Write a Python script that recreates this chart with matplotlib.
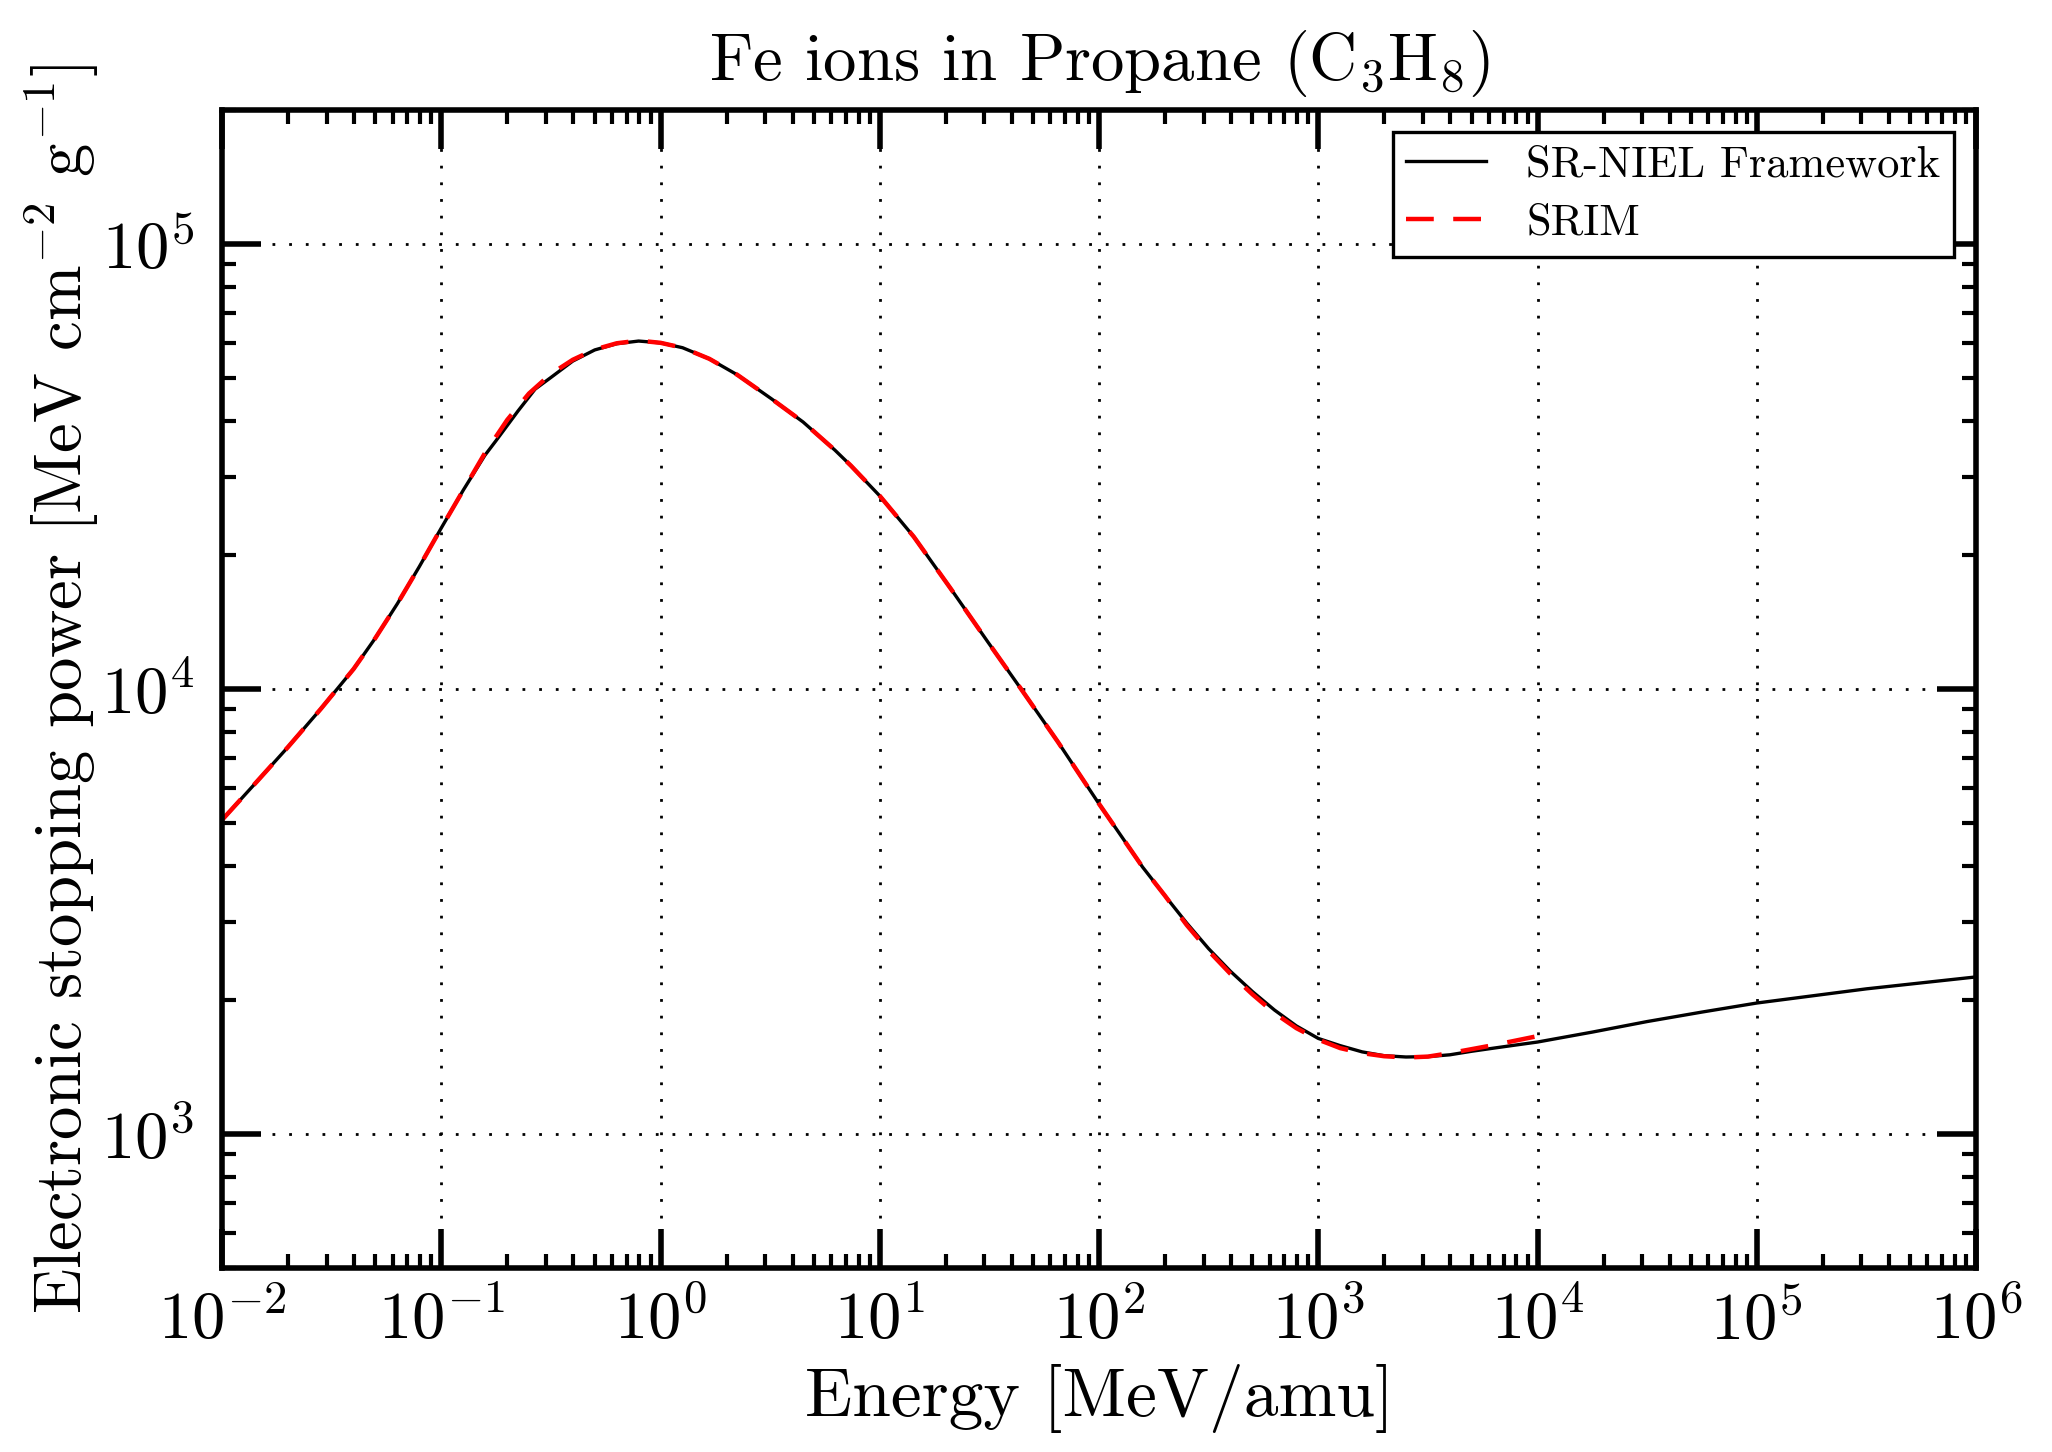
import numpy as np
import matplotlib
matplotlib.use('Agg')
import matplotlib.pyplot as plt
from matplotlib.ticker import LogLocator, FuncFormatter, NullFormatter

# data (energy in MeV/amu, stopping power in MeV cm^2/g)
energy_srniel = [0.01, 0.0141, 0.02, 0.0282, 0.0398, 0.0501, 0.0631, 0.0794, 0.1, 0.126,
                 0.158, 0.177, 0.224, 0.268, 0.316, 0.398, 0.501, 0.631, 0.794, 1.0,
                 1.26, 1.67, 2.24, 3.21, 4.47, 6.24, 7.38, 10, 14.3, 21.1, 31.1, 44.1,
                 65, 100, 126, 158, 200, 251, 316, 398, 501, 631, 794, 1000, 1259, 1585,
                 1995, 2512, 3162, 3981, 5012, 6310, 7943, 1e4, 17780, 31620, 56230,
                 1e5, 316200, 1e6]
power_srniel = [5080, 6120, 7410, 9020, 11090, 13030, 15560, 18840, 23010, 27990,
                33500, 36060, 42170, 47210, 50120, 54580, 57810, 59700, 60530, 59980,
                58480, 55210, 50820, 44870, 39810, 34430, 31770, 27160, 21980, 16790,
                12760, 10000, 7600, 5520, 4680, 3980, 3430, 2980, 2610, 2320, 2090,
                1900, 1750, 1640, 1580, 1530, 1500, 1490, 1493, 1507, 1535, 1560, 1585,
                1610, 1695, 1790, 1880, 1970, 2120, 2255]

energy_srim = [0.01, 0.0141, 0.02, 0.0282, 0.0398, 0.0501, 0.0631, 0.0794, 0.1, 0.126,
               0.158, 0.2, 0.251, 0.316, 0.398, 0.501, 0.631, 0.794, 1.0, 1.26, 1.67,
               2.24, 3.21, 4.47, 6.24, 7.38, 10, 14.3, 21.1, 31.1, 44.1, 65, 100, 126,
               158, 200, 251, 316, 398, 501, 631, 794, 1000, 1259, 1585, 1995, 2512,
               3162, 3981, 5012, 6310, 7943, 1e4]
power_srim = [5080, 6120, 7410, 9020, 11090, 13030, 15560, 18840, 23010, 27990,
              33880, 40270, 46130, 51050, 54950, 57940, 59840, 60670, 59980, 58480,
              55210, 50820, 44870, 39810, 34430, 31770, 27160, 21980, 16790, 12760,
              10000, 7600, 5520, 4680, 3980, 3430, 2950, 2580, 2290, 2060, 1870, 1730,
              1630, 1560, 1520, 1496, 1486, 1493, 1520, 1552, 1585, 1622, 1660]

plt.rcParams['font.family'] = ['cmr10']
plt.rcParams['mathtext.fontset'] = 'cm'
plt.rcParams['axes.unicode_minus'] = False
plt.rcParams['lines.scale_dashes'] = False

fig, ax = plt.subplots(figsize=(10.26, 7.26), dpi=200)
plt.subplots_adjust(left=0.1082, right=0.963, top=0.9242, bottom=0.1267)

ax.plot(energy_srniel, power_srniel, color='k', lw=1.2, label='SR-NIEL Framework')
ax.plot(energy_srim, power_srim, color='r', lw=1.6, dashes=(10, 7), label='SRIM')

ax.set_xscale('log')
ax.set_yscale('log')
ax.set_xlim(1e-2, 1e6)
ax.set_ylim(500, 2e5)

for axis in (ax.xaxis, ax.yaxis):
    axis.set_major_locator(LogLocator(base=10, numticks=100))
    axis.set_minor_locator(LogLocator(base=10, subs=np.arange(2, 10), numticks=100))
    axis.set_major_formatter(FuncFormatter(lambda v, p: r'$10^{%d}$' % round(np.log10(v))))
    axis.set_minor_formatter(NullFormatter())

ax.tick_params(which='both', direction='in', top=True, right=True)
ax.tick_params(which='major', length=14, width=2, labelsize=24)
ax.tick_params(axis='x', which='major', pad=8)
ax.tick_params(axis='y', which='major', pad=10)
ax.tick_params(which='minor', length=5, width=1.5)
for s in ax.spines.values():
    s.set_linewidth(2)

ax.grid(True, which='major', color='k', linestyle=(0, (1, 5)), linewidth=1)

ax.set_xlabel('Energy [MeV/amu]', fontsize=25)
ax.set_ylabel(r'Electronic stopping power [MeV cm$^{-2}$ g$^{-1}$]', fontsize=24)
ax.yaxis.set_label_coords(-0.069, 0.5)
ax.set_title(r'Fe ions in Propane (C$_3$H$_8$)', fontsize=24, pad=11)

leg = ax.legend(loc='upper right', fontsize=16, fancybox=False, framealpha=1,
                edgecolor='k', handlelength=1.8, handletextpad=0.9, labelspacing=0.4,
                borderpad=0.3)
leg.get_frame().set_linewidth(1.2)

fig.savefig('out.png', dpi=200)
